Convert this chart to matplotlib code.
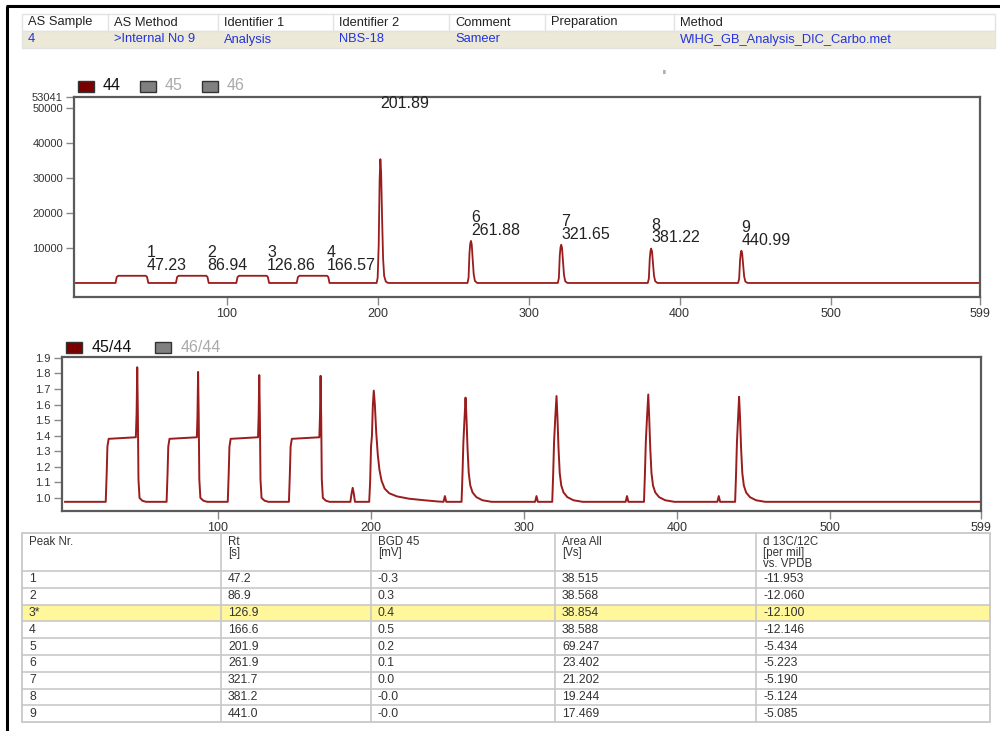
import matplotlib.pyplot as plt
from matplotlib.patches import Rectangle

plt.rcParams['font.family'] = ['Liberation Sans', 'DejaVu Sans']

W, H = 1000, 731

# ---- header info ----
info_cols = ["AS Sample", "AS Method", "Identifier 1", "Identifier 2",
             "Comment", "Preparation", "Method"]
info_vals = ["4", ">Internal No 9", "Analysis", "NBS-18", "Sameer", "",
             "WIHG_GB_Analysis_DIC_Carbo.met"]

# ---- peaks (mass 44 trace) ----
peak_nr = [1, 2, 3, 4, 5, 6, 7, 8, 9]
peak_rt = [47.23, 86.94, 126.86, 166.57, 201.89, 261.88, 321.65, 381.22, 440.99]
peak_top = [2050, 2050, 2050, 2050, 35300, 12000, 10900, 9800, 9200]

trace44_x = [0, 26.5, 27.3, 28.3, 46.6, 47.4, 48.2,
             66.5, 67.3, 68.3, 86.6, 87.4, 88.2,
             106.5, 107.3, 108.3, 126.6, 127.4, 128.2,
             146.5, 147.3, 148.3, 166.6, 167.4, 168.2,
             199.4, 200.1, 200.8, 201.4, 201.9, 202.4, 203.0, 203.7, 204.4, 205.5, 207.0,
             259.6, 260.3, 260.9, 261.4, 261.9, 262.4, 263.0, 263.7, 264.5, 266.0,
             319.4, 320.1, 320.7, 321.2, 321.65, 322.2, 322.8, 323.5, 324.3, 325.8,
             379.0, 379.7, 380.3, 380.8, 381.2, 381.8, 382.4, 383.1, 383.9, 385.4,
             438.8, 439.5, 440.1, 440.6, 441.0, 441.5, 442.1, 442.8, 443.6, 445.1,
             599]
trace44_y = [0, 0, 1700, 2050, 2050, 1700, 0,
             0, 1700, 2050, 2050, 1700, 0,
             0, 1700, 2050, 2050, 1700, 0,
             0, 1700, 2050, 2050, 1700, 0,
             0, 1500, 11000, 29500, 35300, 31500, 19000, 7000, 2000, 400, 0,
             0, 1500, 8500, 11200, 12000, 11000, 7000, 2500, 600, 0,
             0, 1400, 7800, 10200, 10900, 10000, 6400, 2300, 500, 0,
             0, 1300, 7000, 9200, 9800, 9000, 5800, 2100, 500, 0,
             0, 1200, 6500, 8600, 9200, 8400, 5400, 1900, 400, 0,
             0]

# ---- ratio 45/44 trace ----
ratio_x = [0, 26.6, 27.2, 27.7, 28.5, 46.3, 46.8, 47.2, 47.6, 48.0, 48.7, 50.5, 53.0,
           66.4, 67.0, 67.5, 68.3, 86.2, 86.6, 87.0, 87.4, 87.8, 88.5, 90.5, 93.0,
           106.4, 107.0, 107.5, 108.3, 126.2, 126.6, 127.0, 127.4, 127.8, 128.5, 130.5, 133.0,
           146.4, 147.0, 147.5, 148.3, 166.3, 166.7, 167.1, 167.5, 167.9, 168.6, 170.6, 173.0,
           186.6, 187.4, 188.1, 188.8, 189.6,
           198.9, 199.5, 200.1, 200.7, 201.3, 201.9, 202.6, 203.5, 204.5, 205.6, 207.0,
           209.0, 212.0, 217.0, 225.0, 235.0, 244.0,
           247.5, 248.4, 249.3,
           259.3, 259.9, 260.5, 261.2, 261.9, 262.5, 263.2, 264.0, 265.0, 266.5, 269.0, 273.0, 279.0,
           307.4, 308.3, 309.2,
           318.6, 319.2, 319.8, 320.6, 321.4, 322.0, 322.7, 323.5, 324.5, 326.0, 328.5, 332.5, 338.5,
           366.6, 367.5, 368.4,
           378.6, 379.2, 379.8, 380.6, 381.4, 382.0, 382.7, 383.5, 384.5, 386.0, 388.5, 392.5, 398.5,
           426.6, 427.5, 428.4,
           438.2, 438.8, 439.4, 440.1, 440.8, 441.4, 442.1, 442.9, 443.9, 445.4, 447.9, 451.9, 457.9,
           599]
ratio_y = [0.975, 0.975, 1.15, 1.33, 1.38, 1.39, 1.55, 1.84, 1.55, 1.12, 1.0, 0.982, 0.975,
           0.975, 1.15, 1.33, 1.38, 1.39, 1.53, 1.81, 1.53, 1.12, 1.0, 0.982, 0.975,
           0.975, 1.15, 1.33, 1.38, 1.39, 1.53, 1.79, 1.53, 1.12, 1.0, 0.982, 0.975,
           0.975, 1.15, 1.33, 1.38, 1.39, 1.52, 1.785, 1.52, 1.12, 1.0, 0.982, 0.975,
           0.975, 1.03, 1.065, 1.03, 0.975,
           0.975, 1.1, 1.33, 1.4, 1.6, 1.69, 1.6, 1.42, 1.28, 1.18, 1.11,
           1.06, 1.03, 1.01, 0.995, 0.985, 0.977,
           0.975, 1.012, 0.975,
           0.975, 1.15, 1.36, 1.5, 1.645, 1.52, 1.32, 1.16, 1.08, 1.035, 1.005, 0.985, 0.975,
           0.975, 1.012, 0.975,
           0.975, 1.15, 1.36, 1.52, 1.655, 1.52, 1.32, 1.16, 1.08, 1.035, 1.005, 0.985, 0.975,
           0.975, 1.012, 0.975,
           0.975, 1.15, 1.36, 1.52, 1.665, 1.52, 1.32, 1.16, 1.08, 1.035, 1.005, 0.985, 0.975,
           0.975, 1.012, 0.975,
           0.975, 1.15, 1.36, 1.5, 1.65, 1.52, 1.32, 1.16, 1.08, 1.035, 1.005, 0.985, 0.975,
           0.975]

# ---- results table ----
tbl_headers = ["Peak Nr.", "Rt\n[s]", "BGD 45\n[mV]", "Area All\n[Vs]",
               "d 13C/12C\n[per mil]\nvs. VPDB"]
tbl_peak = ["1", "2", "3*", "4", "5", "6", "7", "8", "9"]
tbl_rt = [47.2, 86.9, 126.9, 166.6, 201.9, 261.9, 321.7, 381.2, 441.0]
tbl_bgd = ["-0.3", "0.3", "0.4", "0.5", "0.2", "0.1", "0.0", "-0.0", "-0.0"]
tbl_area = [38.515, 38.568, 38.854, 38.588, 69.247, 23.402, 21.202, 19.244, 17.469]
tbl_d13c = [-11.953, -12.060, -12.100, -12.146, -5.434, -5.223, -5.190, -5.124, -5.085]

x_ticks = [100, 200, 300, 400, 500, 599]
y_ticks_44 = [10000, 20000, 30000, 40000, 50000, 53041]
y_ticks_ratio = [1.0, 1.1, 1.2, 1.3, 1.4, 1.5, 1.6, 1.7, 1.8, 1.9]

TRACE = '#9a1c1c'
DARK = '#7a0000'
GRID = '#c8c8c8'


def px_axes(fig, x0, y0, x1, y1, **kw):
    return fig.add_axes([x0 / W, 1 - y1 / H, (x1 - x0) / W, (y1 - y0) / H], **kw)


def style_axes(ax):
    for s in ax.spines.values():
        s.set_color('#5a5a5a')
        s.set_linewidth(1.6)
    ax.tick_params(direction='out', length=6, width=1, color='#888888',
                   labelcolor='#333333', pad=2)
    ax.set_xticks(x_ticks)
    ax.set_xticklabels([str(t) for t in x_ticks], fontsize=9)


fig = plt.figure(figsize=(W / 100, H / 100), dpi=100)

# canvas in pixel units for tables, legends and frame
cv = fig.add_axes([0, 0, 1, 1], zorder=0)
cv.set_xlim(0, W)
cv.set_ylim(H, 0)
cv.axis('off')

# outer frame
cv.plot([7, 7], [6, H], color='black', lw=2.2, solid_capstyle='butt')
cv.plot([6, W], [6, 6], color='black', lw=2.2, solid_capstyle='butt')

# header info table
info_x = [22, 108, 218, 333, 449, 545, 674, 995]
cv.add_patch(Rectangle((22, 14), 973, 17, facecolor='white', edgecolor='#e2e2e2', lw=1))
cv.add_patch(Rectangle((22, 31), 973, 17, facecolor='#ece9d8', edgecolor='#e2e2e2', lw=1))
for i, (c, v) in enumerate(zip(info_cols, info_vals)):
    if 0 < i:
        cv.plot([info_x[i], info_x[i]], [14, 31], color='#e2e2e2', lw=1)
    cv.text(info_x[i] + 6, 22.5, c, fontsize=9.3, color='#222222', va='center')
    cv.text(info_x[i] + 6, 39.5, v, fontsize=9.3, color='#2233dd', va='center')

cv.text(662, 73, "ıı", fontsize=5, color='#333333', va='center')


def legend_item(x_sq, y_c, label, x_txt, face, tcolor, size):
    cv.add_patch(Rectangle((x_sq, y_c - 5.5), 16, 11, facecolor=face,
                           edgecolor='#333333', lw=1))
    cv.text(x_txt, y_c, label, fontsize=size, color=tcolor, va='center')


legend_item(78, 86, "44", 103, DARK, '#111111', 11.5)
legend_item(140, 86, "45", 165, '#808080', '#aaaaaa', 11.5)
legend_item(202, 86, "46", 227, '#808080', '#aaaaaa', 11.5)
legend_item(66, 347, "45/44", 92, DARK, '#111111', 11.5)
legend_item(155, 347, "46/44", 181, '#808080', '#aaaaaa', 11.5)

# ---- upper chart: mass 44 ----
ax1 = px_axes(fig, 74, 97, 980, 297, zorder=1)
ax1.plot(trace44_x, trace44_y, color=TRACE, lw=1.3)
ax1.set_xlim(-1, 599)
ax1.set_ylim(-4000, 53041)
style_axes(ax1)
ax1.set_yticks(y_ticks_44)
ax1.set_yticklabels([str(t) for t in y_ticks_44], fontsize=8)
for n, rt, top in zip(peak_nr, peak_rt, peak_top):
    if top > 30000:
        ax1.text(rt, 51300, f"{rt:.2f}", fontsize=11.5, color='#222222',
                 ha='left', va='center')
    else:
        ax1.text(rt, top + 900, f"{n}\n{rt:.2f}", fontsize=11.5, color='#222222',
                 ha='left', va='bottom', linespacing=0.8)

# ---- lower chart: ratio 45/44 ----
ax2 = px_axes(fig, 62, 357, 981, 511, zorder=1)
ax2.plot(ratio_x, ratio_y, color=TRACE, lw=1.4)
ax2.set_xlim(-2, 599)
ax2.set_ylim(0.916, 1.906)
style_axes(ax2)
ax2.set_yticks(y_ticks_ratio)
ax2.set_yticklabels([f"{t:.1f}" for t in y_ticks_ratio], fontsize=8)

# ---- results table ----
col_x = [22, 221, 371, 555, 756, 990]
top, head_bot, row_h = 533, 571, 16.8
n_rows = len(tbl_peak)
bottom = head_bot + n_rows * row_h
cv.add_patch(Rectangle((22, head_bot + 2 * row_h), 968, row_h,
                       facecolor='#fff79a', edgecolor='none'))
cv.add_patch(Rectangle((22, top), 968, bottom - top, facecolor='none',
                       edgecolor=GRID, lw=1.3))
for x in col_x[1:-1]:
    cv.plot([x, x], [top, bottom], color=GRID, lw=1.2)
for r in range(n_rows):
    y = head_bot + r * row_h
    cv.plot([22, 990], [y, y], color=GRID, lw=1.2)
for i, h in enumerate(tbl_headers):
    cv.text(col_x[i] + 7, top + 3, h, fontsize=8.3, color='#333333',
            va='top', linespacing=0.9)
for r in range(n_rows):
    yc = head_bot + (r + 0.5) * row_h
    cells = [tbl_peak[r], f"{tbl_rt[r]:.1f}", tbl_bgd[r],
             f"{tbl_area[r]:.3f}", f"{tbl_d13c[r]:.3f}"]
    for i, c in enumerate(cells):
        cv.text(col_x[i] + 7, yc, c, fontsize=8.8, color='#333333', va='center')

fig.savefig("out.png", dpi=100, facecolor='white')
